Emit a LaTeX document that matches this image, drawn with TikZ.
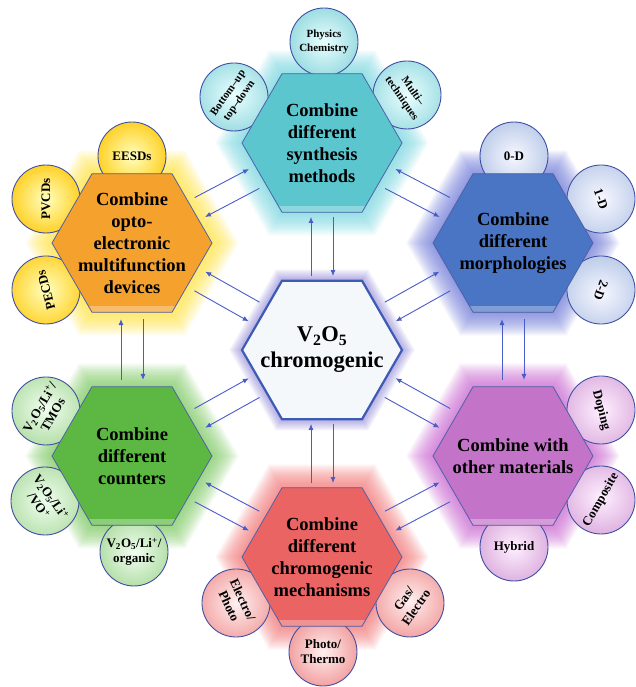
\documentclass[tikz,border=0pt]{standalone}
\usepackage{fontspec}
\setmainfont{Liberation Serif}
\usepackage{xcolor}
\usepackage{tikz}
\usetikzlibrary{arrows.meta,positioning,calc,shapes.geometric}
\pgfdeclarelayer{glows}
\pgfdeclarelayer{sats}
\pgfsetlayers{glows,sats,main}

\definecolor{LinkBlue}{HTML}{4A5CC8}
\definecolor{HexEdge}{HTML}{4F62A8}
\definecolor{RimBlue}{HTML}{3F4FA3}
\definecolor{CoreFill}{HTML}{F5F8FB}
\definecolor{CoreEdge}{HTML}{3D5BB5}
\definecolor{CoreGlow}{HTML}{5548C0}
\definecolor{OptoFill}{HTML}{F4A12E}
\definecolor{OptoGlow}{HTML}{FFE030}
\definecolor{SynFill}{HTML}{5CC6CF}
\definecolor{SynGlow}{HTML}{6CD2DC}
\definecolor{MorphFill}{HTML}{4A74C4}
\definecolor{MorphGlow}{HTML}{6470D4}
\definecolor{CntFill}{HTML}{5DB843}
\definecolor{CntGlow}{HTML}{72C455}
\definecolor{MatFill}{HTML}{C474C8}
\definecolor{MatGlow}{HTML}{C45ACC}
\definecolor{MechFill}{HTML}{EA6464}
\definecolor{MechGlow}{HTML}{F06A6A}

\begin{document}
\begin{tikzpicture}[
	x=1pt, y=1pt,
	hexa/.style={regular polygon, regular polygon sides=6, minimum size=160pt, inner sep=0pt, draw=HexEdge, line width=0.8pt,
		path picture={\fill[white, opacity=0.3] (path picture bounding box.south west) rectangle ([yshift=6pt]path picture bounding box.south east);}},
	halo/.style={regular polygon, regular polygon sides=6, inner sep=0pt, fill opacity=0.045},
	hextitle/.style={align=center, font=\fontsize{18.5}{22}\selectfont\bfseries},
	sat/.style={circle, minimum size=68pt, inner sep=0pt, draw=RimBlue, line width=0.9pt, align=center, font=\fontsize{13}{15}\selectfont\bfseries},
	satsmall/.style={font=\fontsize{11}{13.5}\selectfont\bfseries},
	yellowsat/.style={sat, inner color=yellow!25!white, outer color=OptoGlow!85!orange},
	cyansat/.style={sat, inner color=cyan!8!white, outer color=SynFill!60!white},
	bluesat/.style={sat, inner color=blue!3!white, outer color=MorphFill!35!white},
	greensat/.style={sat, inner color=green!6!white, outer color=CntFill!45!white},
	pinksat/.style={sat, inner color=magenta!6!white, outer color=MatFill!55!white},
	redsat/.style={sat, inner color=red!6!white, outer color=MechFill!60!white},
	arrow/.style={-{Latex[length=6pt, width=5pt]}, LinkBlue, line width=0.9pt}
]
\useasboundingbox (0,0) rectangle (636,687);

% hexagons
\node[hexa, fill=CoreFill, draw=CoreEdge, line width=2.2pt, path picture={}] (c) at (322,337) {};
\node[hexa, fill=SynFill] (syn) at (322,544) {};
\node[hexa, fill=MechFill] (mech) at (322,130) {};
\node[hexa, fill=OptoFill] (opto) at (132,444) {};
\node[hexa, fill=MorphFill] (morph) at (513,444) {};
\node[hexa, fill=CntFill] (cnt) at (132,231) {};
\node[hexa, fill=MatFill] (mat) at (513,231) {};

\node[align=center, font=\fontsize{22.5}{26}\selectfont\bfseries] (c-t) at (c) {V\textsubscript{2}O\textsubscript{5}\\chromogenic};
\node[hextitle] (syn-t) at (syn) {Combine\\different\\synthesis\\methods};
\node[hextitle] (mech-t) at (mech) {Combine\\different\\chromogenic\\mechanisms};
\node[hextitle] (opto-t) at (opto) {Combine\\opto-\\electronic\\multifunction\\devices};
\node[hextitle] (morph-t) at (morph) {Combine\\different\\morphologies};
\node[hextitle] (cnt-t) at (cnt) {Combine\\different\\counters};
\node[hextitle] (mat-t) at (mat) {Combine with\\other materials};

% glow round each hexagon
\begin{pgfonlayer}{glows}
\foreach \n/\col/\w in {c/CoreGlow/26, syn/SynGlow/54, mech/MechGlow/54, opto/OptoGlow/54, morph/MorphGlow/54, cnt/CntGlow/54, mat/MatGlow/54}
	\foreach \s in {0,2,...,\w}
		\node[halo, fill=\col, minimum size=160pt+\s*1pt] at (\n) {};
\end{pgfonlayer}

% satellites
\begin{pgfonlayer}{sats}
\node[cyansat, satsmall, rotate=55] (bup) at ($(syn)+(-88,46)$) {Bottom--up\\top--down};
\node[cyansat, satsmall] (phys) at ($(syn)+(2,101)$) {Physics\\Chemistry};
\node[cyansat, satsmall, rotate=-55] (multi) at ($(syn)+(85,48)$) {Multi--\\techniques};

\node[yellowsat] (eesd) at ($(opto)+(0,87)$) {EESDs};
\node[yellowsat, rotate=90] (pvcd) at ($(opto)+(-86,44)$) {PVCDs};
\node[yellowsat, rotate=105] (pecd) at ($(opto)+(-86,-47)$) {PECDs};

\node[bluesat] (zerod) at ($(morph)+(1,87)$) {0-D};
\node[bluesat, rotate=-70] (oned) at ($(morph)+(88,44)$) {1-D};
\node[bluesat, rotate=-110] (twod) at ($(morph)+(88,-47)$) {2-D};

\node[greensat, rotate=60] (tmo) at ($(cnt)+(-86,45)$) {V\textsubscript{2}O\textsubscript{5}/Li\textsuperscript{+}/\\TMOs};
\node[greensat, rotate=-55] (vo) at ($(cnt)+(-87,-45)$) {V\textsubscript{2}O\textsubscript{5}/Li\textsuperscript{+}\\/VO\textsuperscript{+}};
\node[greensat] (org) at ($(cnt)+(2,-96)$) {V\textsubscript{2}O\textsubscript{5}/Li\textsuperscript{+}/\\organic};

\node[pinksat, rotate=-75] (dop) at ($(mat)+(88,46)$) {Doping};
\node[pinksat, rotate=60] (comp) at ($(mat)+(88,-44)$) {Composite};
\node[pinksat] (hyb) at ($(mat)+(1,-91)$) {Hybrid};

\node[redsat, rotate=-65] (ep) at ($(mech)+(-86,-46)$) {Electro/\\Photo};
\node[redsat] (pt) at ($(mech)+(1,-95)$) {Photo/\\Thermo};
\node[redsat, rotate=55] (ge) at ($(mech)+(88,-46)$) {Gas/\\Electro};
\end{pgfonlayer}

% two-way links
\foreach \a/\b/\s in {c/syn/90, c/mech/90, c/opto/-90, c/morph/90, c/cnt/90, c/mat/-90, opto/syn/90, morph/syn/-90, cnt/opto/90, mat/morph/90, mech/cnt/-90, mech/mat/90}{
	\draw[arrow] ($(\a)!0.357!(\b)!11pt!\s:(\b)$) -- ($(\a)!0.643!(\b)!11pt!\s:(\b)$);
	\draw[arrow] ($(\b)!0.357!(\a)!11pt!\s:(\a)$) -- ($(\b)!0.643!(\a)!11pt!\s:(\a)$);
}
\end{tikzpicture}
\end{document}
